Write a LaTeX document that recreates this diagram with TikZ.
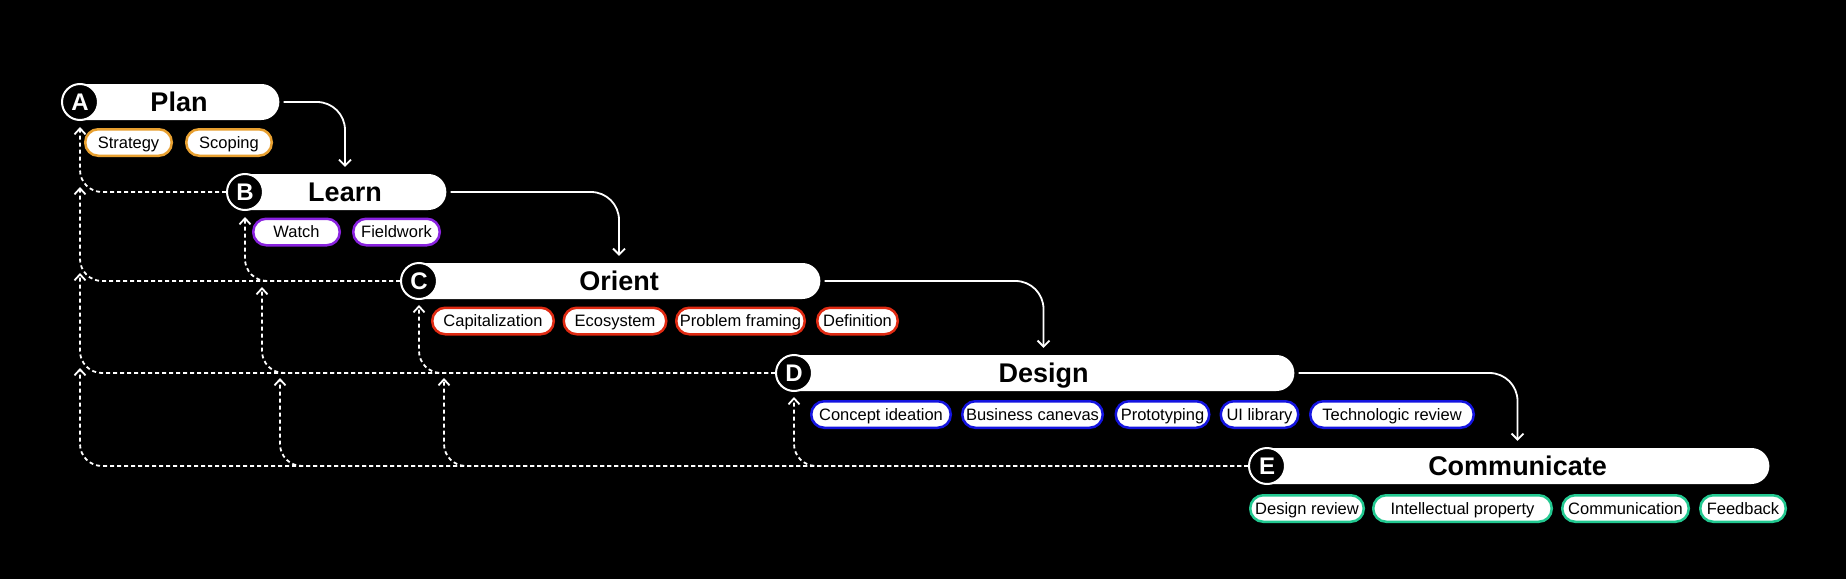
\documentclass[tikz,border=0pt]{standalone}
\usepackage{fontspec}
\setmainfont{Liberation Sans}
\usetikzlibrary{arrows.meta,shapes.misc}

\definecolor{planorange}{HTML}{E8A030}
\definecolor{learnpurple}{HTML}{8A22E0}
\definecolor{orientred}{HTML}{E02A12}
\definecolor{designblue}{HTML}{1414E0}
\definecolor{commgreen}{HTML}{22C890}

\begin{document}
\begin{tikzpicture}[x=1pt, y=-1pt,
  headbar/.style={rounded rectangle, rounded rectangle left arc=none, fill=white,
    minimum height=36pt, inner sep=0pt, text height=19pt, text depth=0pt,
    font=\fontsize{27}{27}\selectfont\bfseries},
  letter/.style={circle, draw=white, line width=2pt, fill=black, text=white,
    minimum size=36pt, inner sep=0pt, text height=17.2pt, text depth=0pt,
    font=\fontsize{24}{24}\selectfont\bfseries},
  tag/.style={draw=#1, line width=2.5pt, fill=white, rounded corners=13pt,
    minimum height=26.5pt, inner sep=0pt, text height=11.8pt, text depth=0pt,
    font=\fontsize{16.5}{16.5}\selectfont},
  flow/.style={white, line width=1.8pt, rounded corners=28pt,
    -{Straight Barb[length=6pt,width=12pt]}, shorten <=4pt, shorten >=7pt},
  back/.style={white, line width=1.8pt, dash pattern=on 4pt off 3pt, rounded corners=22pt,
    -{Straight Barb[length=6pt,width=11pt]}}]

\useasboundingbox (0,0) rectangle (1846,578);
\fill [black] (-10,-10) rectangle (1856,588);

%BARS
\node [headbar, minimum width=198pt] (planbar) at (179,102) {Plan};
\node [headbar, minimum width=200pt] (learnbar) at (345,192) {Learn};
\node [headbar, minimum width=400pt] (orientbar) at (619,281) {Orient};
\node [headbar, minimum width=499pt] (designbar) at (1043.5,373) {Design};
\node [headbar, minimum width=501pt] (commbar) at (1517.5,466) {Communicate};

%LETTERS
\node [letter] (A) at (80,102) {A};
\node [letter] (B) at (245,192) {B};
\node [letter] (C) at (419,281) {C};
\node [letter] (D) at (794,373) {D};
\node [letter] (E) at (1267,466) {E};

%MERGE POINTS
\coordinate (ca) at (80,187);
\coordinate (da) at (80,273);
\coordinate (ea) at (80,368);
\coordinate (db) at (262,287);
\coordinate (eb) at (280,378);
\coordinate (ec) at (444,378);

%BACK LINES
\draw [back, shorten >=6pt] (B.west) -| (A.south);
\draw [back] (C.west) -| (ca);
\draw [back, shorten >=6pt] (C.west) -| (B.south);
\draw [back] (D.west) -| (da);
\draw [back] (D.west) -| (db);
\draw [back, shorten >=5pt] (D.west) -| (C.south);
\draw [back] (E.west) -| (ea);
\draw [back] (E.west) -| (eb);
\draw [back] (E.west) -| (ec);
\draw [back, shorten >=5pt] (E.west) -| (D.south);

%FLOW
\draw [flow] (planbar.east) -| (learnbar.north);
\draw [flow] (learnbar.east) -| (orientbar.north);
\draw [flow] (orientbar.east) -| (designbar.north);
\draw [flow] (designbar.east) -| (commbar.north);

%ROW A
\node [tag=planorange, minimum width=86.5pt] (strategy) at (128.5,142.5) {Strategy};
\node [tag=planorange, minimum width=85.5pt] (scoping) at (229,142.5) {Scoping};

%ROW B
\node [tag=learnpurple, minimum width=86.5pt] (watch) at (296.5,232) {Watch};
\node [tag=learnpurple, minimum width=86.5pt] (fieldwork) at (396.5,232) {Fieldwork};

%ROW C
\node [tag=orientred, minimum width=121.5pt] (capital) at (493,321) {Capitalization};
\node [tag=orientred, minimum width=102.5pt] (ecosys) at (615,321) {Ecosystem};
\node [tag=orientred, minimum width=128.5pt] (framing) at (740.5,321) {Problem framing};
\node [tag=orientred, minimum width=80.5pt] (definition) at (857.5,321) {Definition};

%ROW D
\node [tag=designblue, minimum width=139.5pt] (concept) at (881,414.5) {Concept ideation};
\node [tag=designblue, minimum width=140.5pt] (canvas) at (1032.5,414.5) {Business canevas};
\node [tag=designblue, minimum width=93.5pt] (proto) at (1162.5,414.5) {Prototyping};
\node [tag=designblue, minimum width=77.5pt] (uilib) at (1259.5,414.5) {UI library};
\node [tag=designblue, minimum width=163.5pt] (techrev) at (1392,414.5) {Technologic review};

%ROW E
\node [tag=commgreen, minimum width=113.5pt] (review) at (1307,508.5) {Design review};
\node [tag=commgreen, minimum width=178.5pt] (ip) at (1462.5,508.5) {Intellectual property};
\node [tag=commgreen, minimum width=126.5pt] (comm) at (1625.5,508.5) {Communication};
\node [tag=commgreen, minimum width=85.5pt] (feedback) at (1743,508.5) {Feedback};

\end{tikzpicture}
\end{document}
